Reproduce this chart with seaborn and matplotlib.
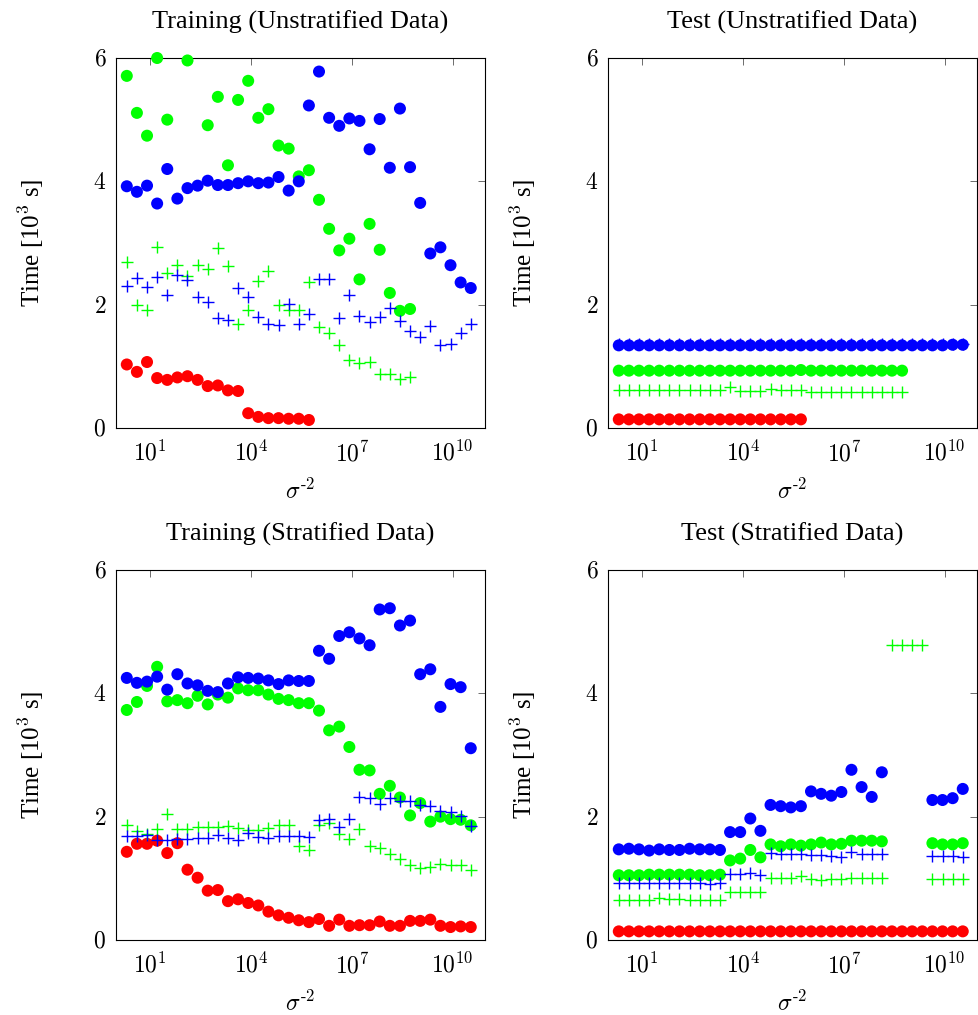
import numpy as np
import pandas as pd
import matplotlib
matplotlib.use("Agg")
import matplotlib.pyplot as plt
import matplotlib.ticker as mticker
import seaborn as sns

nan = np.nan

# sigma^-2 grid: 2^1 ... 2^35
exponents = np.arange(1, 36)
sigma_inv2 = 2.0 ** exponents

# ---- Training (Unstratified Data) ----
tu_red = [1.03, 0.91, 1.07, 0.81, 0.78, 0.82, 0.84, 0.78, 0.68, 0.69, 0.61, 0.60,
          0.24, 0.18, 0.16, 0.16, 0.15, 0.15, 0.13] + [nan] * 16
tu_green = [5.71, 5.11, 4.74, 6.00, 5.00, nan, 5.96, nan, 4.91, 5.37, 4.26, 5.32,
            5.63, 5.03, 5.17, 4.58, 4.53, 4.08, 4.18, 3.70, 3.23, 2.88, 3.07, 2.41,
            3.31, 2.89, 2.19, 1.90, 1.93] + [nan] * 6
tu_blue = [3.92, 3.83, 3.93, 3.64, 4.20, 3.72, 3.89, 3.93, 4.01, 3.94, 3.94, 3.97,
           4.00, 3.97, 3.98, 4.07, 3.85, 4.00, 5.23, 5.78, 5.03, 4.90, 5.02, 4.98,
           4.52, 5.01, 4.22, 5.18, 4.23, 3.65, 2.83, 2.93, 2.64, 2.36, 2.27]
tu_green_p = [2.70, 2.00, 1.91, 2.94, 2.51, 2.64, 2.47, 2.65, 2.58, 2.92, 2.62, 1.69,
              1.91, 2.38, 2.55, 2.00, 1.91, 1.92, 2.37, 1.63, 1.54, 1.34, 1.11, 1.05,
              1.07, 0.88, 0.87, 0.79, 0.83] + [nan] * 6
tu_blue_p = [2.31, 2.44, 2.29, 2.45, 2.16, 2.48, 2.40, 2.12, 2.04, 1.78, 1.75, 2.27,
             2.12, 1.80, 1.68, 1.67, 2.01, 1.68, 1.85, 2.41, 2.41, 1.78, 2.15, 1.82,
             1.72, 1.80, 1.94, 1.73, 1.57, 1.47, 1.66, 1.34, 1.36, 1.54, 1.69]

# ---- Test (Unstratified Data) ----
eu_red = [0.14, 0.14, 0.14, 0.14, 0.14, 0.14, 0.14, 0.14, 0.14, 0.14, 0.14, 0.14,
          0.14, 0.14, 0.14, 0.14, 0.14, 0.14, 0.14] + [nan] * 16
eu_green = [0.93, 0.93, 0.93, 0.93, 0.93, 0.93, 0.93, 0.93, 0.93, 0.93, 0.93, 0.93,
            0.93, 0.93, 0.93, 0.93, 0.93, 0.93, 0.94, 0.93, 0.93, 0.93, 0.93, 0.93,
            0.93, 0.93, 0.93, 0.93, 0.93] + [nan] * 6
eu_blue = [1.34, 1.34, 1.34, 1.34, 1.34, 1.34, 1.34, 1.34, 1.34, 1.34, 1.34, 1.34,
           1.34, 1.34, 1.34, 1.34, 1.34, 1.34, 1.34, 1.34, 1.34, 1.34, 1.34, 1.34,
           1.34, 1.34, 1.34, 1.34, 1.34, 1.34, 1.34, 1.34, 1.34, 1.35, 1.35]
eu_green_p = [0.61, 0.62, 0.61, 0.61, 0.61, 0.61, 0.61, 0.61, 0.61, 0.61, 0.61, 0.66,
              0.60, 0.60, 0.60, 0.63, 0.61, 0.61, 0.61, 0.58, 0.58, 0.58, 0.58, 0.58,
              0.58, 0.58, 0.58, 0.58, 0.58] + [nan] * 6
eu_blue_p = [1.37, 1.37, 1.37, 1.37, 1.37, 1.37, 1.37, 1.37, 1.37, 1.37, 1.37, 1.37,
             1.37, 1.37, 1.37, 1.37, 1.37, 1.37, 1.37, 1.37, 1.37, 1.37, 1.37, 1.37,
             1.37, 1.37, 1.37, 1.37, 1.37, 1.37, 1.37, 1.37, 1.37, 1.37, 1.37]

# ---- Training (Stratified Data) ----
ts_red = [1.43, 1.56, 1.56, 1.61, 1.41, 1.57, 1.14, 1.01, 0.80, 0.81, 0.63, 0.66,
          0.60, 0.56, 0.46, 0.40, 0.36, 0.32, 0.29, 0.34, 0.23, 0.33, 0.23, 0.24,
          0.24, 0.30, 0.23, 0.23, 0.31, 0.31, 0.33, 0.23, 0.21, 0.22, 0.21]
ts_green = [3.73, 3.86, 4.12, 4.43, 3.87, 3.89, 3.84, 3.96, 3.82, 3.98, 3.93, 4.08,
            4.05, 4.05, 3.98, 3.91, 3.89, 3.84, 3.84, 3.72, 3.40, 3.46, 3.13, 2.76,
            2.75, 2.37, 2.50, 2.31, 2.02, 2.22, 1.92, 2.00, 1.96, 1.95, 1.86]
ts_blue = [4.25, 4.17, 4.19, 4.27, 4.06, 4.31, 4.16, 4.13, 4.04, 4.02, 4.16, 4.26,
           4.25, 4.24, 4.21, 4.15, 4.21, 4.20, 4.20, 4.69, 4.56, 4.93, 4.99, 4.89,
           4.78, 5.36, 5.38, 5.10, 5.18, 4.31, 4.39, 3.78, 4.15, 4.10, 3.11]
ts_green_p = [1.86, 1.77, 1.72, 1.80, 2.04, 1.80, 1.80, 1.84, 1.84, 1.84, 1.85, 1.82,
              1.79, 1.78, 1.82, 1.86, 1.86, 1.52, 1.46, 1.87, 1.89, 1.72, 1.64, 1.80,
              1.53, 1.49, 1.39, 1.32, 1.22, 1.17, 1.19, 1.24, 1.21, 1.21, 1.14]
ts_blue_p = [1.68, 1.68, 1.70, 1.62, 1.62, 1.64, 1.63, 1.66, 1.66, 1.71, 1.65, 1.62,
             1.74, 1.67, 1.66, 1.68, 1.69, 1.68, 1.67, 1.94, 1.97, 1.83, 1.97, 2.32,
             2.31, 2.21, 2.31, 2.26, 2.25, 2.19, 2.18, 2.10, 2.07, 2.01, 1.85]

# ---- Test (Stratified Data) ----
es_red = [0.14, 0.14, 0.14, 0.14, 0.14, 0.14, 0.14, 0.14, 0.14, 0.14, 0.14, 0.14,
          0.14, 0.14, 0.14, 0.14, 0.14, 0.14, 0.14, 0.14, 0.14, 0.14, 0.14, 0.14,
          0.14, 0.14, 0.14, 0.14, 0.14, 0.14, 0.14, 0.14, 0.14, 0.14, 0.14]
es_green = [1.05, 1.05, 1.05, 1.06, 1.06, 1.06, 1.06, 1.06, 1.05, 1.05, 1.06, 1.29,
            1.32, 1.46, 1.34, 1.55, 1.52, 1.55, 1.53, 1.55, 1.58, 1.55, 1.56, 1.61,
            1.61, 1.61, 1.60, nan, nan, nan, nan, 1.57, 1.55, 1.55, 1.57]
es_blue = [1.47, 1.48, 1.47, 1.45, 1.47, 1.46, 1.46, 1.48, 1.47, 1.47, 1.46, 1.75,
           1.75, 1.97, 1.77, 2.19, 2.17, 2.15, 2.17, 2.41, 2.37, 2.34, 2.40, 2.76,
           2.48, 2.32, 2.72, nan, nan, nan, nan, 2.27, 2.27, 2.30, 2.45]
es_green_p = [0.65, 0.65, 0.65, 0.65, 0.68, 0.66, 0.66, 0.65, 0.65, 0.65, 0.65, 0.78,
              0.78, 0.78, 0.78, 1.00, 1.00, 1.00, 1.03, 0.99, 0.97, 0.99, 0.99, 1.01,
              1.01, 1.01, 1.01, 4.78, 4.78, 4.79, 4.78, 0.99, 0.99, 0.99, 0.99]
es_blue_p = [0.92, 0.92, 0.92, 0.92, 0.92, 0.92, 0.92, 0.92, 0.92, 0.91, 0.92, 1.07,
             1.07, 1.09, 1.05, 1.41, 1.40, 1.40, 1.40, 1.38, 1.38, 1.37, 1.35, 1.43,
             1.39, 1.39, 1.39, nan, nan, nan, nan, 1.37, 1.37, 1.37, 1.35]

titles = ["Training (Unstratified Data)", "Test (Unstratified Data)",
          "Training (Stratified Data)", "Test (Stratified Data)"]
panels = [
    (tu_red, tu_green, tu_blue, tu_green_p, tu_blue_p),
    (eu_red, eu_green, eu_blue, eu_green_p, eu_blue_p),
    (ts_red, ts_green, ts_blue, ts_green_p, ts_blue_p),
    (es_red, es_green, es_blue, es_green_p, es_blue_p),
]

RED, GREEN, BLUE = "#ff0000", "#00ff00", "#0000ff"

sns.set_style("white")
plt.rcParams["font.family"] = ["Liberation Serif", "DejaVu Serif"]
plt.rcParams["mathtext.fontset"] = "cm"
plt.rcParams["text.color"] = "black"
plt.rcParams["axes.labelcolor"] = "black"
plt.rcParams["xtick.color"] = "black"
plt.rcParams["ytick.color"] = "black"

fig = plt.figure(figsize=(9.79, 10.15), dpi=100)
W, H = 979, 1015
boxes = [(116, 58), (608, 58), (116, 570), (608, 570)]
aw, ah = 369, 370

for (x0, y0), title, series in zip(boxes, titles, panels):
    ax = fig.add_axes([x0 / W, 1 - (y0 + ah) / H, aw / W, ah / H])
    red, green, blue, green_p, blue_p = series
    df = pd.DataFrame({"sigma": sigma_inv2, "red": red, "green": green, "blue": blue,
                       "green_p": green_p, "blue_p": blue_p})
    for col, c in [("red", RED), ("green", GREEN), ("blue", BLUE)]:
        sns.scatterplot(data=df, x="sigma", y=col, ax=ax, color=c, marker="o",
                        s=75, linewidth=0, edgecolor="none", clip_on=False, zorder=3)
    for col, c in [("green_p", GREEN), ("blue_p", BLUE)]:
        sns.scatterplot(data=df, x="sigma", y=col, ax=ax, color=c, marker="+",
                        s=80, linewidth=1.0, clip_on=False, zorder=4)

    ax.set_xscale("log")
    ax.set_xlim(10 ** -0.02, 10 ** 10.96)
    ax.set_ylim(0, 6)
    ax.xaxis.set_major_locator(mticker.FixedLocator([1e1, 1e4, 1e7, 1e10]))
    ax.xaxis.set_minor_locator(mticker.NullLocator())
    ax.xaxis.set_major_formatter(mticker.FuncFormatter(
        lambda v, p: r"$10^{%d}$" % round(np.log10(v))))
    ax.set_yticks([0, 2, 4, 6])
    ax.yaxis.set_major_formatter(mticker.FuncFormatter(lambda v, p: r"$%d$" % v))
    ax.tick_params(which="major", direction="in", top=True, right=True,
                   length=5, width=0.6, color="#555555", labelcolor="black",
                   labelsize=17)
    ax.tick_params(axis="x", pad=9)
    ax.tick_params(axis="y", pad=7)
    for sp in ax.spines.values():
        sp.set_color("black")
        sp.set_linewidth(0.8)
    ax.set_title(title, fontsize=19, pad=21, color="black")
    ax.set_xlabel(r"$\sigma^{\text{-}2}$", fontsize=17, labelpad=9)
    ax.set_ylabel(r"Time [10$^3$ s]", fontsize=18, labelpad=34)

fig.savefig("out.png", dpi=100)
